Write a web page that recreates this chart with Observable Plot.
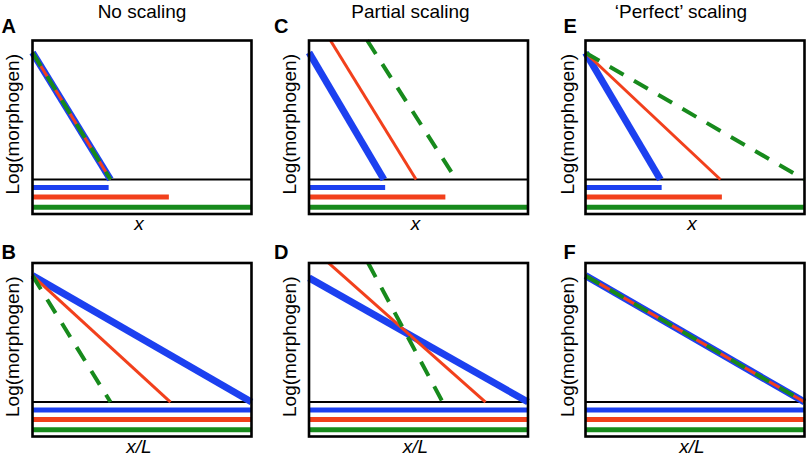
<!DOCTYPE html>
<html>
<head>
<meta charset="utf-8">
<script src="https://cdn.jsdelivr.net/npm/d3@7"></script>
<script src="https://cdn.jsdelivr.net/npm/@observablehq/plot@0.6"></script>
<style>
  html, body { margin: 0; padding: 0; background: #fff; }
  #chart svg { display: block; }
</style>
</head>
<body>
<div id="chart"></div>
<script>
// ---------- data ----------
const columnTitles = ["No scaling", "Partial scaling", "\u2018Perfect\u2019 scaling"];
const rowXLabels = ["x", "x/L"];
const yAxisLabel = "Log(morphogen)";

const panelIds = ["A", "B", "C", "D", "E", "F"];
const panelCol = [0, 0, 1, 1, 2, 2];
const panelRow = [0, 1, 0, 1, 0, 1];

const series = ["blue", "red", "green"];            // small, medium, large tissue
const seriesColor = ["#1c40f0", "#f2401c", "#178a1c"];

// tissue lengths (bars under the threshold line), per row
const tissueLengthTop = [0.35, 0.625, 1.0];          // absolute x
const tissueLengthBottom = [1.0, 1.0, 1.0];          // relative x/L

// gradient segments: start (x0, y0) -> end (x1, threshold)
const threshold = 0;
const gradX0 = { A: [0, 0, 0], B: [0, 0, 0], C: [0, 0.098, 0.266], D: [0, 0.089, 0.270], E: [0, 0, 0], F: [0, 0, 0] };
const gradY0 = { A: [0.914, 0.914, 0.914], B: [0.909, 0.909, 0.909], C: [0.914, 1, 1], D: [0.893, 1, 1], E: [0.912, 0.912, 0.912], F: [0.909, 0.909, 0.909] };
const gradX1 = { A: [0.356, 0.356, 0.356], B: [1, 0.63, 0.356], C: [0.342, 0.489, 0.672], D: [1, 0.806, 0.610], E: [0.342, 0.616, 1], F: [1, 1, 1] };

// ---------- tables ----------
const panels = panelIds.map((id, i) => ({ id, col: panelCol[i], row: panelRow[i] }));

const gradients = [];
const bars = [];
panels.forEach(p => {
  series.forEach((s, k) => {
    gradients.push({ panel: p.id, col: p.col, row: p.row, series: s, k,
      x1: gradX0[p.id][k], y1: gradY0[p.id][k], x2: gradX1[p.id][k], y2: threshold });
    bars.push({ panel: p.id, col: p.col, row: p.row, series: s, k,
      length: (p.row === 0 ? tissueLengthTop : tissueLengthBottom)[k] });
  });
});

// ---------- styling / layout (not data) ----------
const barLevel = [-0.058, -0.126, -0.2];
const lineWidth = [7, 3, 4];
const font = "'Liberation Sans', Arial, Helvetica, sans-serif";
const letterDx = [-31, -35, -22];
const letterDy = [-8, -4];
const titleDx = [0, -8, -14];
const yLabDx = [-20, -19.5, -18];

const marks = [];
// bars
series.forEach((s, k) => {
  marks.push(Plot.ruleY(bars.filter(d => d.k === k), {
    fx: "col", fy: "row", y: () => barLevel[k], x1: 0, x2: "length",
    stroke: seriesColor[k], strokeWidth: 5
  }));
});
// threshold divider
marks.push(Plot.ruleY([threshold], { stroke: "black", strokeWidth: 2 }));
// gradients: blue, red, green (dashed on top)
series.forEach((s, k) => {
  marks.push(Plot.link(gradients.filter(d => d.k === k), {
    fx: "col", fy: "row", x1: "x1", y1: "y1", x2: "x2", y2: "y2",
    stroke: seriesColor[k], strokeWidth: lineWidth[k],
    strokeDasharray: k === 2 ? "16,12" : null, strokeLinecap: "butt"
  }));
});
// frame
marks.push(Plot.frame({ stroke: "black", strokeWidth: 2.6 }));

// texts per column
[0, 1, 2].forEach(c => {
  const colPanels = panels.filter(p => p.col === c);
  [0, 1].forEach(r => {
    marks.push(Plot.text(colPanels.filter(p => p.row === r), {
      fx: "col", fy: "row", text: "id", frameAnchor: "top-left",
      textAnchor: "start", lineAnchor: "bottom", dx: letterDx[c], dy: letterDy[r],
      fontSize: 20, fontWeight: "bold", fill: "black"
    }));
  });
  marks.push(Plot.text(colPanels.filter(p => p.row === 0), {
    fx: "col", fy: "row", text: p => columnTitles[p.col], frameAnchor: "top",
    lineAnchor: "bottom", dx: titleDx[c], dy: -23, fontSize: 19, fill: "black"
  }));
  marks.push(Plot.text(colPanels, {
    fx: "col", fy: "row", text: () => yAxisLabel, frameAnchor: "left",
    rotate: -90, textAnchor: "middle", lineAnchor: "middle", dx: yLabDx[c], dy: -3,
    fontSize: 19, fill: "black"
  }));
  marks.push(Plot.text(colPanels, {
    fx: "col", fy: "row", text: p => rowXLabels[p.row], frameAnchor: "bottom",
    lineAnchor: "bottom", dx: -3, dy: 16, fontSize: 19, fontStyle: "italic", fill: "black"
  }));
});

const chart = Plot.plot({
  width: 806,
  height: 461,
  marginLeft: 32,
  marginRight: 2,
  marginTop: 40,
  marginBottom: 25,
  style: { fontFamily: font, background: "white", overflow: "visible" },
  fx: { domain: [0, 1, 2], paddingInner: 0.208, paddingOuter: 0, round: false, axis: null },
  fy: { domain: [0, 1], paddingInner: 0.2202, paddingOuter: 0, round: false, axis: null },
  x: { domain: [0, 1], axis: null },
  y: { domain: [-0.248, 1], axis: null },
  marks
});
document.getElementById("chart").appendChild(chart);
</script>
</body>
</html>
